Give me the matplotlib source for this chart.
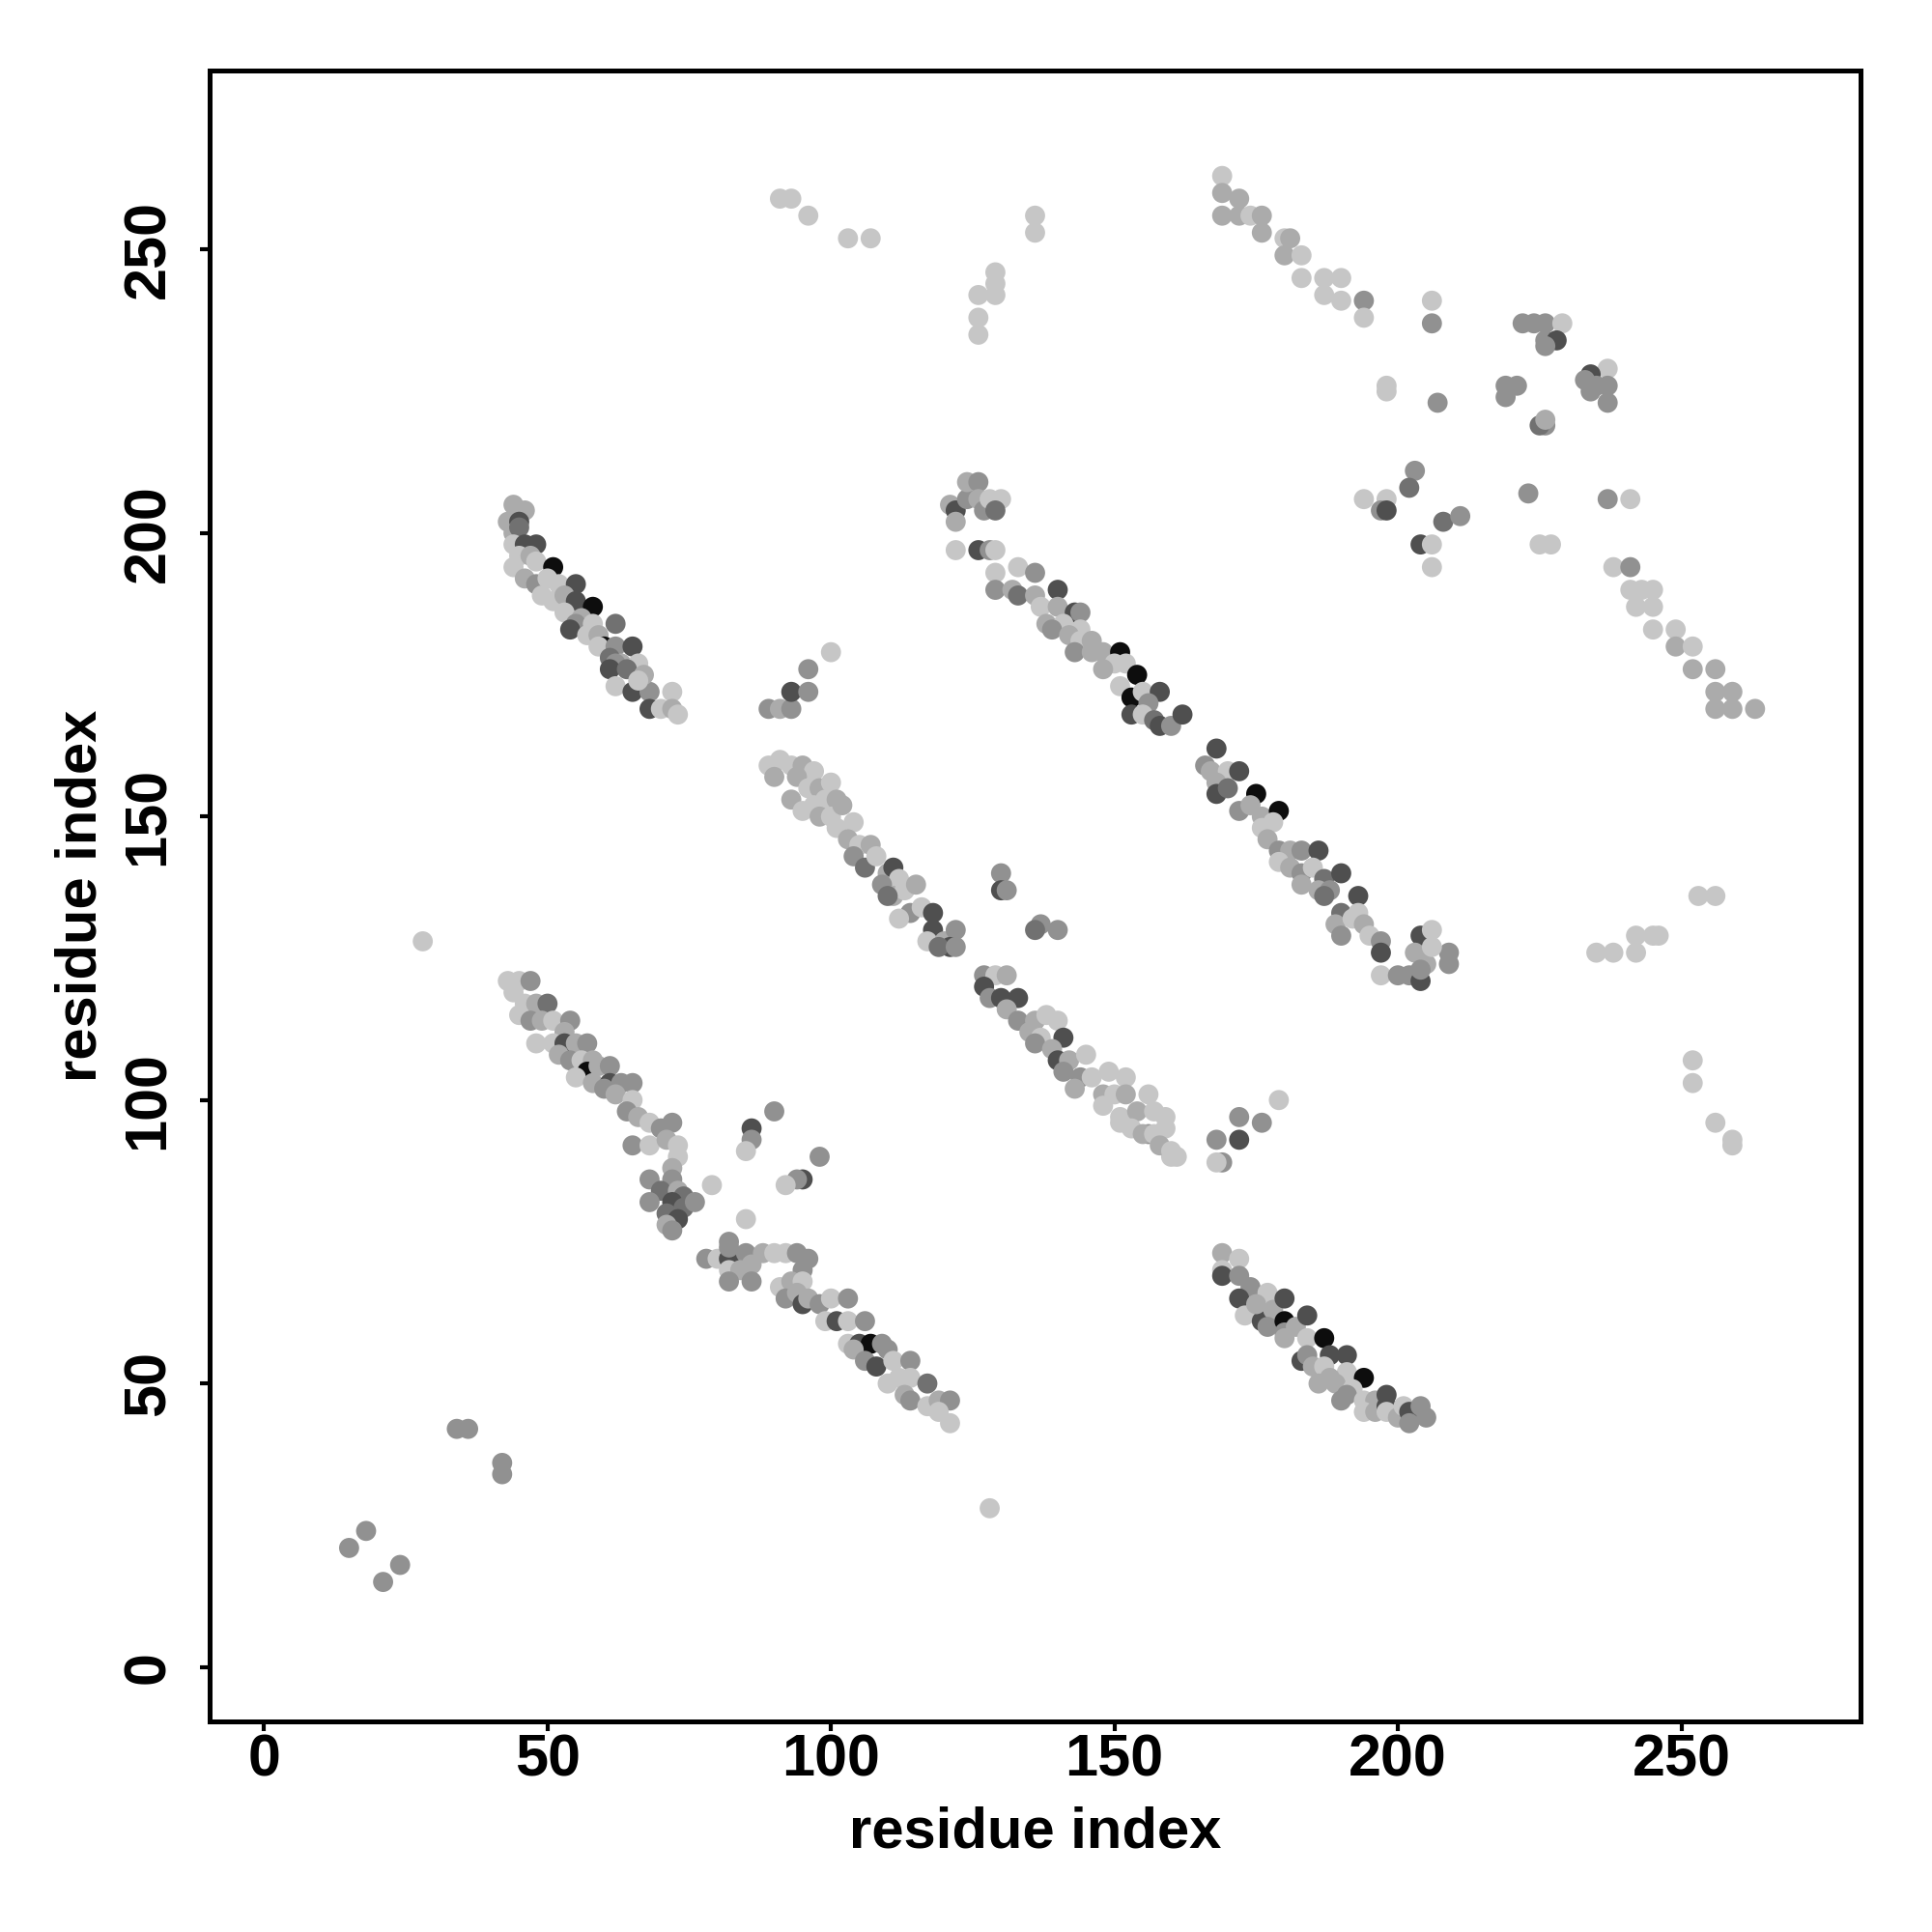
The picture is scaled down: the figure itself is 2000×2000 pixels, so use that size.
import numpy as np
import matplotlib
matplotlib.use("Agg")
import matplotlib.pyplot as plt

# contact map points: (residue i, residue j, shade level 0=light .. 5=black)
shades = ['#c6c6c6', '#ababab', '#919191', '#717171', '#4f4f4f', '#0d0d0d']

isolated = [(15, 21, 2), (18, 24, 2), (21, 15, 2), (24, 18, 2), (34, 42, 2), (36, 42, 2),
            (42, 36, 2), (42, 34, 2), (28, 128, 0), (128, 28, 0)]

band_a = [(44, 205, 1), (46, 204, 1), (43, 202, 1), (45, 202, 4), (44, 200, 1), (45, 201, 3),
          (44, 198, 0), (46, 198, 4), (48, 198, 4), (45, 196, 0), (47, 196, 1),
          (44, 194, 0), (48, 195, 0), (51, 194, 5), (46, 192, 1), (48, 191, 2), (50, 192, 0),
          (52, 191, 0), (55, 191, 4), (49, 189, 0), (51, 188, 0), (53, 189, 1), (55, 188, 4),
          (58, 187, 5), (53, 186, 0), (56, 185, 1), (55, 184, 2), (54, 183, 4), (58, 184, 0),
          (62, 184, 3), (57, 182, 0), (59, 182, 1), (60, 180, 5), (59, 180, 0), (62, 180, 2), (65, 180, 4),
          (61, 178, 3), (63, 177, 1), (62, 177, 2), (66, 177, 0), (61, 176, 4), (64, 176, 3),
          (62, 173, 0), (65, 172, 4), (68, 172, 2), (67, 175, 1), (66, 174, 0), (72, 172, 0),
          (68, 169, 4), (70, 169, 0), (72, 169, 1), (73, 168, 0)]

band_b = [(43, 121, 0), (45, 121, 0), (47, 121, 2), (44, 119, 0), (46, 117, 0), (48, 117, 1), (50, 117, 3),
          (45, 115, 0), (47, 114, 2), (49, 114, 1), (51, 114, 0), (54, 114, 2), (53, 112, 1),
          (48, 110, 0), (51, 110, 0), (53, 110, 4), (55, 110, 1), (57, 110, 2),
          (52, 108, 1), (54, 107, 2), (56, 107, 0), (58, 107, 1), (57, 105, 5), (59, 106, 1), (61, 106, 2),
          (55, 104, 0), (58, 103, 1), (61, 103, 4), (63, 103, 2), (60, 102, 2), (65, 103, 2), (62, 101, 1),
          (65, 100, 0), (64, 98, 2), (66, 97, 1), (68, 96, 0), (72, 96, 2), (70, 95, 2),
          (65, 92, 2), (68, 92, 0), (71, 93, 1), (73, 92, 0), (73, 90, 0), (72, 88, 1),
          (68, 86, 2), (72, 86, 2), (70, 84, 3), (73, 84, 1), (74, 83, 3), (68, 82, 2), (72, 82, 4),
          (74, 81, 3), (76, 82, 2), (71, 80, 3), (73, 79, 4), (71, 78, 1), (72, 77, 2), (79, 85, 0)]

band_c = [(78, 72, 2), (80, 72, 0), (82, 72, 4), (82, 75, 2), (82, 74, 2), (85, 73, 2), (86, 72, 2),
          (88, 73, 1), (90, 73, 0), (92, 73, 0), (94, 73, 2), (96, 72, 2), (95, 70, 2),
          (82, 70, 0), (84, 70, 1), (86, 71, 1), (82, 68, 2), (86, 68, 2), (91, 67, 0), (93, 68, 1), (95, 68, 0),
          (92, 65, 2), (94, 66, 1), (95, 64, 4), (96, 65, 1), (98, 64, 2), (100, 65, 0), (103, 65, 2),
          (99, 61, 0), (101, 61, 4), (103, 61, 0), (106, 61, 2), (103, 57, 0), (105, 57, 4), (107, 57, 5),
          (109, 57, 2), (110, 56, 2), (104, 56, 1), (106, 54, 2), (108, 53, 4), (111, 54, 0), (114, 54, 2),
          (110, 50, 0), (112, 51, 0), (114, 51, 0), (117, 50, 3), (113, 48, 1), (114, 47, 2), (117, 46, 0),
          (119, 47, 1), (121, 47, 2), (119, 45, 0), (121, 43, 0)]

band_d = [(89, 159, 0), (91, 160, 0), (93, 159, 0), (95, 159, 1), (97, 158, 0), (90, 157, 1), (94, 157, 1),
          (96, 155, 0), (98, 155, 1), (100, 156, 0), (93, 153, 1), (97, 152, 0), (99, 153, 0), (101, 153, 1),
          (95, 151, 0), (98, 150, 1), (100, 150, 0), (102, 152, 1), (101, 148, 0), (104, 149, 0), (103, 146, 1),
          (105, 145, 0), (107, 145, 1), (104, 143, 2), (106, 141, 3), (108, 143, 0), (110, 140, 1),
          (111, 141, 4), (112, 139, 0), (109, 138, 2), (111, 136, 1), (113, 137, 0), (115, 138, 1),
          (110, 136, 3), (114, 133, 2), (116, 134, 0), (112, 132, 0), (118, 133, 4), (118, 130, 4), (117, 128, 0),
          (120, 128, 1), (122, 130, 2), (121, 127, 4), (119, 127, 3), (122, 127, 2)]

band_e = [(127, 122, 2), (129, 122, 0), (131, 122, 1), (127, 120, 4), (128, 118, 2), (130, 118, 4), (133, 118, 4),
          (131, 116, 1), (133, 114, 2), (136, 114, 1), (138, 115, 0), (140, 114, 0), (135, 112, 1),
          (137, 111, 0), (141, 111, 4), (136, 110, 2), (139, 109, 1), (140, 107, 4), (142, 107, 1), (145, 108, 0),
          (141, 105, 2), (144, 104, 2), (146, 104, 0), (149, 105, 0), (152, 104, 0), (143, 102, 1),
          (148, 101, 1), (150, 101, 0), (152, 101, 1), (156, 101, 0), (148, 99, 0), (151, 97, 0), (154, 98, 1),
          (157, 98, 0), (153, 95, 0), (155, 94, 1), (157, 94, 0), (159, 95, 0), (158, 92, 1), (160, 91, 0),
          (161, 90, 0),
          (130, 140, 2), (130, 137, 4), (131, 137, 2), (137, 131, 2), (136, 130, 3), (140, 130, 2)]

band_f = [(121, 205, 1), (122, 204, 4), (124, 206, 2), (124, 209, 1), (126, 209, 2), (126, 206, 1),
          (127, 204, 2), (128, 206, 0), (130, 206, 0), (129, 204, 3), (122, 202, 1),
          (122, 197, 0), (126, 197, 4), (128, 197, 2), (129, 197, 0),
          (129, 193, 0), (133, 194, 0), (136, 193, 2), (129, 190, 2), (132, 190, 1), (133, 189, 3),
          (136, 189, 1), (140, 190, 4), (137, 187, 0), (140, 187, 1), (143, 186, 4), (144, 186, 2),
          (138, 184, 1), (141, 184, 0), (144, 183, 0), (139, 183, 2), (142, 182, 1), (144, 181, 0),
          (146, 181, 1), (143, 179, 2), (146, 179, 1), (148, 179, 1), (151, 179, 5), (150, 177, 0),
          (148, 176, 1), (152, 177, 0), (154, 175, 5), (151, 173, 0), (153, 171, 5), (155, 172, 0),
          (158, 172, 4), (156, 170, 2), (153, 168, 4), (155, 168, 0), (157, 167, 3), (158, 166, 4),
          (160, 166, 2), (162, 168, 4),
          (168, 162, 4), (166, 159, 2), (167, 158, 1), (170, 158, 0), (172, 158, 4), (168, 156, 1),
          (168, 154, 4), (170, 155, 3), (175, 154, 5), (172, 151, 2), (174, 152, 1), (176, 150, 1),
          (179, 151, 5), (176, 148, 0), (178, 149, 0), (177, 146, 1), (179, 144, 2), (181, 144, 1),
          (183, 144, 2), (186, 144, 4), (179, 142, 0), (181, 141, 1), (183, 140, 2), (185, 141, 0),
          (187, 139, 3), (190, 140, 4), (183, 138, 1), (186, 137, 1), (188, 137, 2), (193, 136, 4),
          (187, 136, 3), (190, 133, 3), (193, 133, 0), (189, 131, 1), (192, 132, 0), (194, 131, 1),
          (190, 129, 2), (195, 129, 0), (197, 128, 2), (197, 126, 4), (197, 122, 0), (200, 122, 2),
          (202, 122, 2), (204, 121, 4), (204, 129, 4), (206, 130, 0), (209, 126, 2), (209, 124, 2),
          (203, 126, 1), (205, 124, 1), (206, 127, 0), (204, 123, 2)]

band_g = [(169, 73, 1), (172, 72, 0), (169, 70, 0), (169, 69, 4), (172, 69, 2), (174, 67, 2), (172, 65, 4),
          (173, 62, 0), (177, 66, 0), (176, 61, 4), (175, 64, 1), (178, 63, 1), (180, 65, 4), (177, 60, 2),
          (180, 61, 5), (180, 59, 2), (182, 60, 1), (184, 62, 4), (180, 58, 1), (184, 58, 0), (187, 58, 5),
          (183, 54, 4), (184, 55, 2), (185, 53, 1), (188, 55, 4), (191, 55, 4), (187, 53, 0), (191, 52, 0),
          (194, 51, 5), (186, 50, 1), (188, 51, 1), (189, 50, 1), (192, 49, 0), (190, 47, 2), (191, 48, 2),
          (194, 47, 0), (196, 47, 1), (194, 45, 0), (196, 45, 1), (198, 48, 4), (198, 46, 4), (198, 45, 0),
          (200, 44, 1), (201, 46, 0), (202, 45, 4), (202, 43, 2), (204, 46, 2), (205, 44, 2)]

small_mid = [(172, 97, 2), (176, 96, 2), (172, 93, 4), (168, 93, 2), (169, 89, 2), (168, 89, 0),
             (159, 97, 0), (160, 90, 0), (156, 94, 2), (151, 96, 0), (179, 100, 0),
             (90, 98, 2), (86, 95, 4), (86, 93, 2), (85, 91, 0), (98, 90, 2), (95, 86, 4), (94, 86, 2),
             (92, 85, 0), (85, 79, 0),
             (89, 169, 2), (91, 169, 1), (93, 169, 2), (93, 172, 4), (96, 176, 2), (96, 172, 2), (100, 179, 0)]

top_left = [(91, 259, 0), (93, 259, 0), (96, 256, 0), (103, 252, 0), (107, 252, 0), (126, 242, 0),
            (126, 238, 0), (126, 235, 0), (129, 246, 0), (129, 244, 0), (129, 242, 0), (136, 256, 0),
            (136, 253, 0)]

band_h = [(169, 263, 0), (169, 260, 1), (169, 256, 1), (172, 259, 1), (172, 256, 1), (174, 256, 0),
          (176, 256, 1), (176, 253, 1), (180, 252, 0), (180, 249, 1), (181, 252, 1), (183, 249, 0),
          (183, 245, 0), (187, 245, 0), (190, 245, 0), (187, 242, 0), (190, 241, 0), (194, 241, 2),
          (194, 238, 0), (206, 241, 0), (206, 237, 2)]

right_side = [(222, 237, 2), (224, 237, 2), (226, 237, 2), (229, 237, 0), (226, 234, 2), (228, 234, 4),
              (226, 233, 2), (219, 226, 2), (219, 224, 2), (221, 226, 2), (237, 229, 0), (234, 228, 4),
              (233, 227, 2), (235, 226, 2), (237, 226, 2), (237, 223, 2), (234, 225, 2),
              (198, 226, 0), (198, 225, 0), (207, 223, 2), (226, 219, 2), (225, 219, 3), (226, 220, 1),
              (203, 211, 2), (202, 208, 3), (194, 206, 0), (198, 206, 0), (197, 204, 2), (198, 204, 4),
              (208, 202, 3), (211, 203, 2), (204, 198, 4), (206, 198, 0), (206, 194, 0), (223, 207, 2),
              (225, 198, 0), (227, 198, 0), (237, 206, 2), (241, 206, 0),
              (238, 194, 0), (241, 194, 2), (241, 190, 0), (243, 190, 0), (245, 190, 0), (242, 187, 0),
              (245, 187, 0), (245, 183, 0), (249, 183, 0), (249, 180, 1), (252, 180, 0), (252, 176, 1),
              (256, 176, 1), (256, 172, 1), (259, 172, 1), (256, 169, 1), (259, 169, 1), (263, 169, 1),
              (253, 136, 0), (256, 136, 0), (242, 129, 0), (245, 129, 0), (246, 129, 0), (235, 126, 0),
              (238, 126, 0), (242, 126, 0), (252, 107, 0), (252, 103, 0), (256, 96, 0), (259, 93, 0),
              (259, 92, 0)]

groups = [isolated, top_left, band_h, right_side, small_mid,
          band_a, band_b, band_c, band_d, band_e, band_f, band_g]
pts = np.array([p for g in groups for p in g])
x, y, lvl = pts[:, 0], pts[:, 1], pts[:, 2].astype(int)
colors = [shades[k] for k in lvl]

plt.rcParams['font.family'] = ['Liberation Sans', 'DejaVu Sans']
plt.rcParams['font.weight'] = 'bold'

fig = plt.figure(figsize=(10, 10), dpi=200)
ax = fig.add_axes([0.1085, 0.109, 0.8545, 0.8545])
ax.scatter(x, y, s=56, c=colors, linewidths=0)

ax.set_xlim(-9.6, 281.6)
ax.set_ylim(-9.6, 281.6)
ticks = [0, 50, 100, 150, 200, 250]
ax.set_xticks(ticks)
ax.set_yticks(ticks)
for s in ax.spines.values():
    s.set_linewidth(1.8)
ax.tick_params(axis='both', direction='out', length=3.6, width=1.5, labelsize=22)
ax.tick_params(axis='x', pad=0.8)
ax.tick_params(axis='y', pad=8.6)
for lab in ax.get_yticklabels():
    lab.set_rotation(90)
    lab.set_va('center')

ax.set_xlabel('residue index', fontsize=21.5, fontweight='bold', va='baseline')
ax.xaxis.set_label_coords(0.5, -0.0761)
ax.set_ylabel('residue index', fontsize=21.5, fontweight='bold', va='center', ha='center')
ax.yaxis.set_label_coords(-0.078, 0.5)

plt.savefig('out.png', dpi=200)
plt.close()
